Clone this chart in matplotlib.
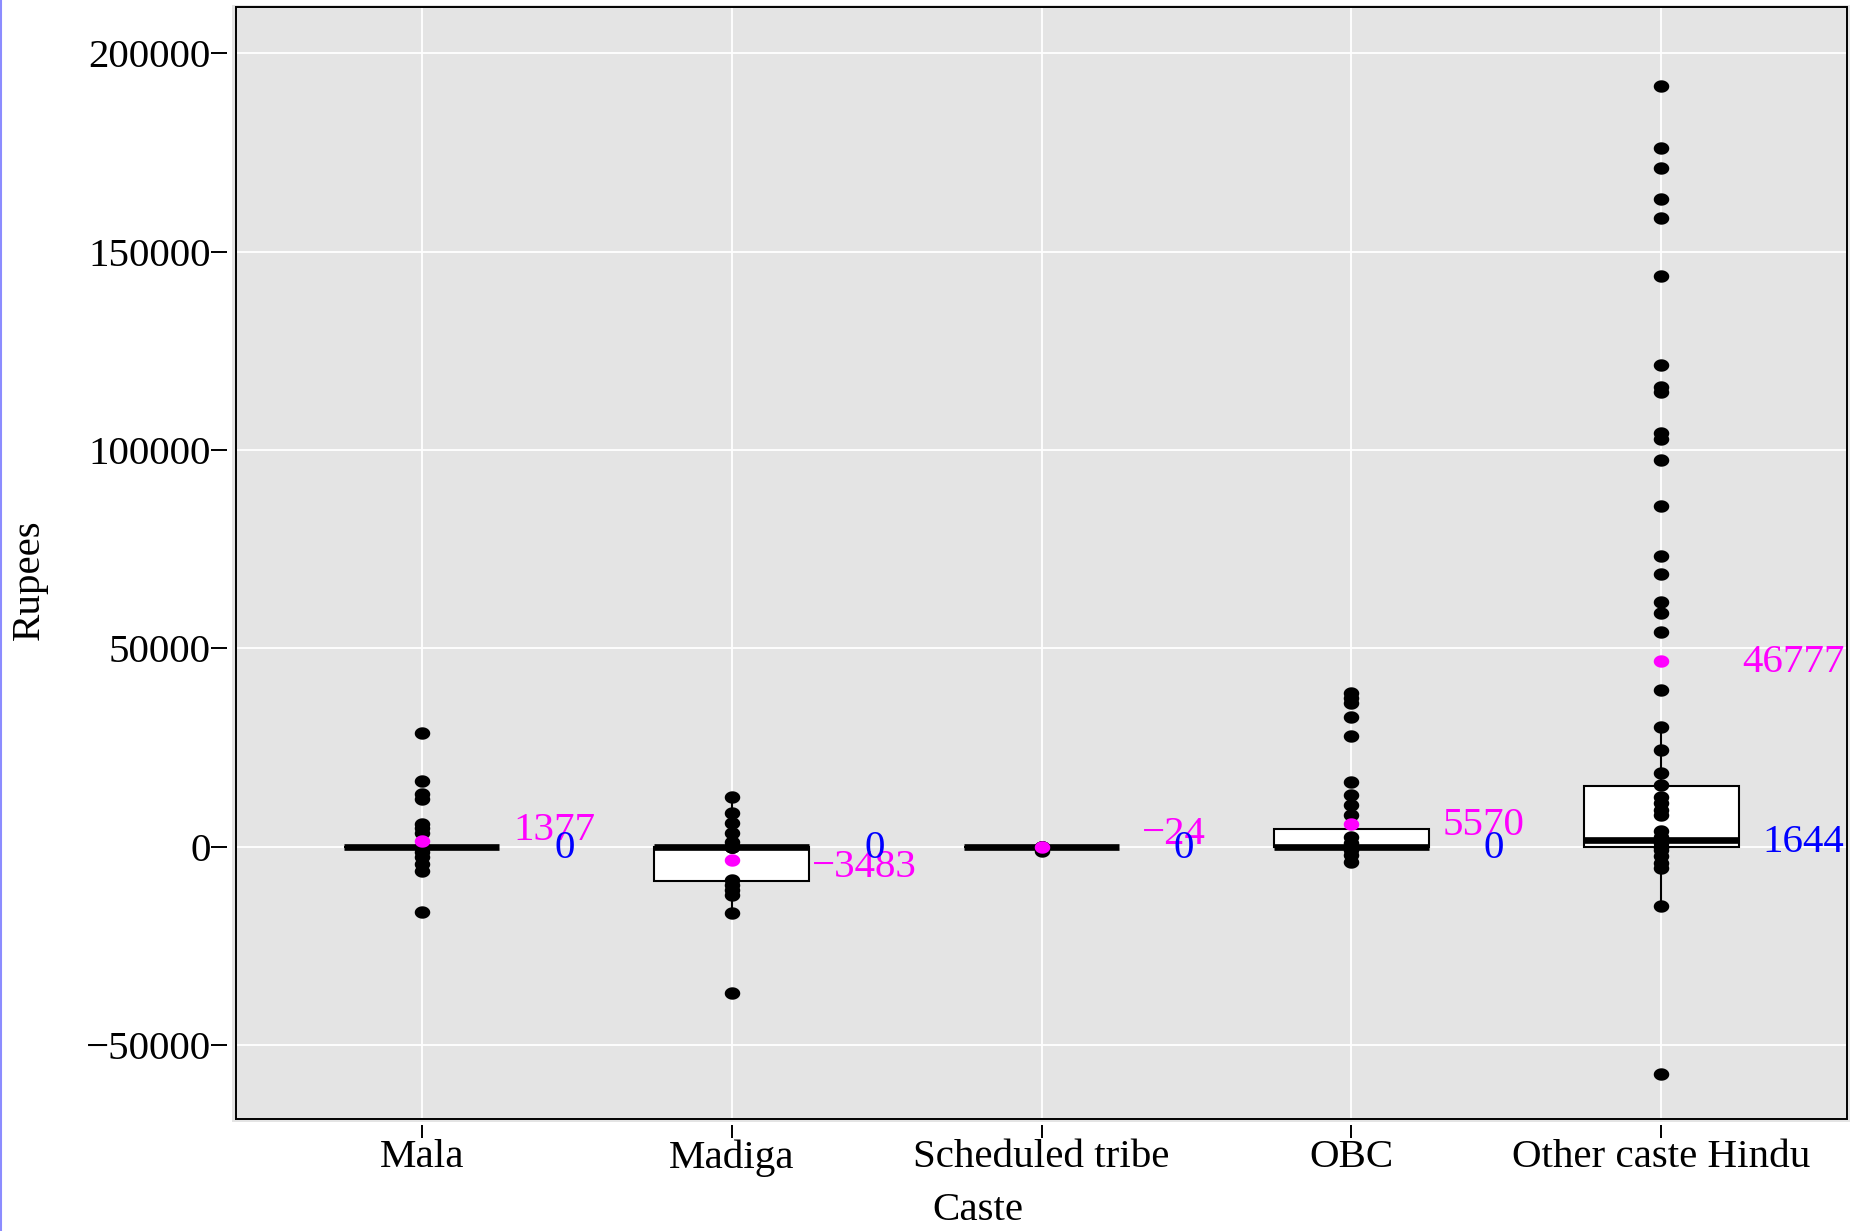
import numpy as np
import matplotlib
matplotlib.use("Agg")
import matplotlib.pyplot as plt
from matplotlib.patches import Rectangle
from matplotlib.lines import Line2D
from matplotlib.path import Path

plt.rcParams["font.family"] = ["Liberation Serif", "DejaVu Serif"]

# ---- data ----
categories = ["Mala", "Madiga", "Scheduled tribe", "OBC", "Other caste Hindu"]

mala = [28750, 16500, 13200, 12000, 5800, 4700, 3500, 0, 0, 0, 0,
        -1400, -2600, -4500, -6100, -16500]
madiga = [12400, 8500, 6000, 3400, 1200, 0, 0, 0,
          -8400, -9700, -10900, -12200, -16700, -37000]
sched_tribe = [0, 0, 0, -1200]
obc = [38600, 37400, 36100, 32700, 27900, 16400, 13000, 10500, 8000,
       2500, 800, 0, 0, -800, -2100, -3800]
other_hindu = [191700, 176100, 171100, 163200, 158400, 143900, 121400,
               115800, 114500, 104200, 102800, 97500, 85800, 73200, 68700,
               61600, 59000, 54000, 39600, 30200, 24400, 18500, 15500,
               12600, 10900, 9300, 8000, 3800, 2500, 850, 0, 0,
               -830, -2500, -4200, -5400, -14900, -57300]
points = [mala, madiga, sched_tribe, obc, other_hindu]

# box statistics (ggplot style)
q1 = [0, -8700, 0, 0, 0]
medians = [0, 0, 0, 0, 1644]
q3 = [0, 0, 0, 4500, 15300]
whisk_lo = [0, -16700, 0, -3800, -14900]
whisk_hi = [0, 12400, 0, 10500, 30200]
means = [1377, -3483, -24, 5570, 46777]

yticks = [-50000, 0, 50000, 100000, 150000, 200000]

# label nudges (points) – mimic repelled labels in the original
mean_nudge = [7.5, -5, 9, -1, -1]
med_nudge = -1.5

FS = 29.5
W, H = 1859, 1231
fig = plt.figure(figsize=(W / 100, H / 100), dpi=100)
L, R, T, B = 236, 1847, 7, 1119
ax = fig.add_axes([L / W, 1 - B / H, (R - L) / W, (B - T) / H])

# light panel background slightly larger than the black border
fig.patches.append(Rectangle(((L - 4) / W, 1 - (B + 3) / H),
                             (R - L + 7) / W, (B - T + 5) / H,
                             transform=fig.transFigure, facecolor="#E4E4E4",
                             edgecolor="none", zorder=-5))
ax.set_facecolor("#E4E4E4")

# ticks sit a little away from the panel, like the original
for s in ax.spines.values():
    s.set_color("none")
ax.spines["left"].set_position(("outward", 6.5))
ax.spines["bottom"].set_position(("outward", 4.3))

pos = np.arange(1, len(categories) + 1)
stats = []
for i in range(len(categories)):
    stats.append(dict(med=medians[i], q1=q1[i], q3=q3[i],
                      whislo=whisk_lo[i], whishi=whisk_hi[i], fliers=[]))

ax.bxp(stats, positions=pos, widths=0.5, showcaps=False, showfliers=False,
       patch_artist=True,
       boxprops=dict(facecolor="white", edgecolor="black", linewidth=1.5),
       whiskerprops=dict(color="black", linewidth=1.5),
       medianprops=dict(color="black", linewidth=4.8, solid_capstyle="butt"),
       zorder=2)

# slightly flattened dots, as in the original
t = np.linspace(0, 2 * np.pi, 40)
dot = Path(np.column_stack([np.cos(t), 0.8 * np.sin(t)]), closed=True)

for p, vals in zip(pos, points):
    ax.scatter(np.full(len(vals), p), vals, s=125, marker=dot,
               color="black", linewidths=0, zorder=3)

ax.scatter(pos, means, s=125, marker=dot, color="#FF00FF", linewidths=0,
           zorder=4)


def fmt(v):
    return str(v).replace("-", "\u2212")


for p, m, dy in zip(pos, means, mean_nudge):
    ax.annotate(fmt(m), (p + 0.427, m), xytext=(0, dy),
                textcoords="offset points", ha="center", va="center",
                color="#FF00FF", fontsize=FS, zorder=5)
for p, md in zip(pos, medians):
    ax.annotate(fmt(md), (p + 0.46, md), xytext=(0, med_nudge),
                textcoords="offset points", ha="center", va="center",
                color="#0000FF", fontsize=FS, zorder=6)

ax.set_xlim(0.4, 5.6)
ax.set_ylim(-68700, 211700)
ax.set_xticks(pos)
ax.set_xticklabels(categories)
ax.set_yticks(yticks)
ax.set_yticklabels([fmt(v) for v in yticks])
ax.tick_params(axis="y", length=11.5, width=1.4, pad=0, direction="out",
               labelsize=FS)
ax.tick_params(axis="x", length=9.4, width=1.4, pad=1, direction="out",
               labelsize=FS)

ax.grid(True, color="white", linewidth=1.3)
ax.set_axisbelow(True)

ax.add_patch(Rectangle((0, 0), 1, 1, transform=ax.transAxes, fill=False,
                       edgecolor="black", linewidth=1.4, clip_on=False,
                       zorder=7))

ax.set_xlabel("Caste", fontsize=FS)
ax.xaxis.set_label_coords((978 - L) / (R - L), -(1211 - B) / (B - T))
ax.xaxis.label.set_va("center")
ax.set_ylabel("Rupees", fontsize=FS)
ax.yaxis.set_label_coords((29 - L) / (R - L), 1 - (580 - T) / (B - T))
ax.yaxis.label.set_va("center")

# thin border line at the left edge of the screenshot
fig.lines.append(Line2D([1 / W, 1 / W], [0, 1], transform=fig.transFigure,
                        color="#8C8CFF", linewidth=1.5))

fig.savefig("out.png", dpi=100)
